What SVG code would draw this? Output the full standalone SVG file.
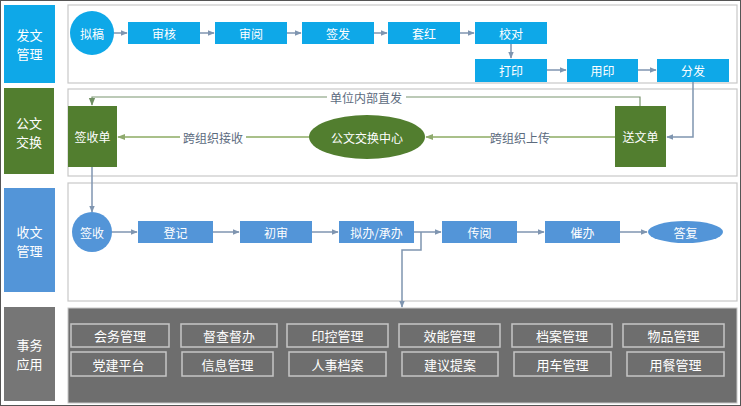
<svg xmlns="http://www.w3.org/2000/svg" width="741" height="406" viewBox="0 0 741 406">
<defs>
<marker id="ab" viewBox="0 0 10 10" refX="9" refY="5" markerWidth="7" markerHeight="7" markerUnits="userSpaceOnUse" orient="auto"><path d="M0,1 L10,5 L0,9 z" fill="#7F95B0"/></marker>
<marker id="ag" viewBox="0 0 10 10" refX="9" refY="5" markerWidth="8" markerHeight="8" markerUnits="userSpaceOnUse" orient="auto"><path d="M0,1 L10,5 L0,9 z" fill="#8FAA6E"/></marker>
<marker id="ad" viewBox="0 0 10 10" refX="9" refY="5" markerWidth="8" markerHeight="8" markerUnits="userSpaceOnUse" orient="auto"><path d="M0,1 L10,5 L0,9 z" fill="#6F8F63"/></marker>
</defs>
<style>
text{font-family:"Noto Sans CJK SC","Liberation Sans",sans-serif;text-anchor:middle;dominant-baseline:central}
.w{fill:#fff;font-size:12px}
.lab{fill:#fff;font-size:13px}
.b1{fill:#0EA8E8}
.g{fill:#527E2F}
.b3{fill:#5395D8}
.gy{fill:#767676}
.panel{fill:#fff;stroke:#C8C8C8;stroke-width:1.2}
.bl{stroke:#7F95B0;stroke-width:1.5;fill:none}
.gl{stroke:#A9C08A;stroke-width:2;fill:none}
.dl{stroke:#7A9570;stroke-width:1.2;fill:none}
.sb{fill:none;stroke:#C6C6C6;stroke-width:1.5}
.lt{fill:#5C6B7E;font-size:12px}
</style>
<rect x="0.5" y="0.5" width="740" height="405" fill="#fff" stroke="#555"/>
<g id="lanes">
<rect class="b1" x="4" y="5" width="51" height="78"/>
<text class="lab" x="29.5" y="34">发文</text><text class="lab" x="29.5" y="53">管理</text>
<rect class="g" x="4" y="88" width="50" height="86"/>
<text class="lab" x="29" y="122">公文</text><text class="lab" x="29" y="141">交换</text>
<rect class="b3" x="4" y="188" width="51" height="104"/>
<text class="lab" x="29.5" y="231">收文</text><text class="lab" x="29.5" y="250">管理</text>
<rect class="gy" x="4" y="307" width="51" height="94"/>
<text class="lab" x="29.5" y="344">事务</text><text class="lab" x="29.5" y="363">应用</text>
</g>
<g id="panels">
<rect class="panel" x="68" y="5" width="669" height="78"/>
<rect class="panel" x="68" y="89" width="669" height="87"/>
<rect class="panel" x="68" y="183" width="669" height="118"/>
<rect x="68" y="308" width="669" height="95" fill="#6E6E6E" stroke="#C8C8C8" stroke-width="1"/>
</g>
<g id="connectors">
<path class="bl" d="M114,33 H127" marker-end="url(#ab)"/>
<path class="bl" d="M200,33 H214" marker-end="url(#ab)"/>
<path class="bl" d="M287,33 H301" marker-end="url(#ab)"/>
<path class="bl" d="M374,33 H387" marker-end="url(#ab)"/>
<path class="bl" d="M460,33 H474" marker-end="url(#ab)"/>
<path class="bl" d="M511,44 V58" marker-end="url(#ab)"/>
<path class="bl" d="M547,70 H566" marker-end="url(#ab)"/>
<path class="bl" d="M638,70 H656" marker-end="url(#ab)"/>
<path class="bl" d="M693,82 V137 H667" marker-end="url(#ab)"/>
<path class="gl" d="M615,137 H549 M491,137 H426" marker-end="url(#ag)"/>
<path class="gl" d="M309,137 H246 M180,137 H118" marker-end="url(#ag)"/>
<path class="dl" d="M640,106 V97 H406 M327,97 H92 V105" marker-end="url(#ad)"/>
<path class="bl" d="M92,167 V212" marker-end="url(#ab)"/>
<path class="bl" d="M111,232 H137" marker-end="url(#ab)"/>
<path class="bl" d="M213,232 H239" marker-end="url(#ab)"/>
<path class="bl" d="M312,232 H338" marker-end="url(#ab)"/>
<path class="bl" d="M414,232 H441" marker-end="url(#ab)"/>
<path class="bl" d="M517,232 H544" marker-end="url(#ab)"/>
<path class="bl" d="M620,232 H647" marker-end="url(#ab)"/>
<path class="bl" d="M421,232 V250 H402 V307" marker-end="url(#ab)"/>
<text class="lt" x="520" y="137">跨组织上传</text>
<text class="lt" x="213" y="137">跨组织接收</text>
<text class="lt" x="366" y="97">单位内部直发</text>
</g>
<g id="n-nigao"><circle class="b1" cx="92" cy="33" r="22"/><text class="w" x="92" y="33">拟稿</text></g>
<g id="n-shenhe"><rect class="b1" x="128" y="22" width="72" height="22"/><text class="w" x="164" y="33">审核</text></g>
<g id="n-shenyue"><rect class="b1" x="215" y="22" width="72" height="22"/><text class="w" x="251" y="33">审阅</text></g>
<g id="n-qianfa"><rect class="b1" x="302" y="22" width="72" height="22"/><text class="w" x="338" y="33">签发</text></g>
<g id="n-taohong"><rect class="b1" x="388" y="22" width="72" height="22"/><text class="w" x="424" y="33">套红</text></g>
<g id="n-jiaodui"><rect class="b1" x="475" y="22" width="72" height="22"/><text class="w" x="511" y="33">校对</text></g>
<g id="n-dayin"><rect class="b1" x="475" y="59" width="72" height="23"/><text class="w" x="511" y="70.5">打印</text></g>
<g id="n-yongyin"><rect class="b1" x="567" y="59" width="71" height="23"/><text class="w" x="602.5" y="70.5">用印</text></g>
<g id="n-fenfa"><rect class="b1" x="657" y="59" width="72" height="23"/><text class="w" x="693" y="70.5">分发</text></g>
<g id="n-qianshoudan"><rect class="g" x="68" y="106" width="49" height="61"/><text class="w" x="92.5" y="136.5">签收单</text></g>
<g id="n-center"><ellipse class="g" cx="367" cy="137" rx="58" ry="22"/><text class="w" x="367" y="137">公文交换中心</text></g>
<g id="n-songwendan"><rect class="g" x="615" y="106" width="51" height="61"/><text class="w" x="640.5" y="136.5">送文单</text></g>
<g id="n-qianshou"><circle class="b3" cx="92" cy="232" r="20"/><text class="w" x="92" y="232">签收</text></g>
<g id="n-dengji"><rect class="b3" x="138" y="221" width="75" height="22"/><text class="w" x="175.5" y="232">登记</text></g>
<g id="n-chushen"><rect class="b3" x="240" y="221" width="72" height="22"/><text class="w" x="276" y="232">初审</text></g>
<g id="n-niban"><rect class="b3" x="339" y="221" width="75" height="22"/><text class="w" x="376.5" y="232">拟办/承办</text></g>
<g id="n-chuanyue"><rect class="b3" x="442" y="221" width="75" height="22"/><text class="w" x="479.5" y="232">传阅</text></g>
<g id="n-cuiban"><rect class="b3" x="545" y="221" width="75" height="22"/><text class="w" x="582.5" y="232">催办</text></g>
<g id="n-dafu"><ellipse class="b3" cx="685.5" cy="232" rx="37.5" ry="11"/><text class="w" x="685.5" y="232">答复</text></g>
<g id="n-huiwu"><rect class="sb" x="71" y="324" width="98" height="23"/><text class="lab" x="120" y="335.5">会务管理</text></g>
<g id="n-ducha"><rect class="sb" x="181" y="324" width="96" height="23"/><text class="lab" x="229" y="335.5">督查督办</text></g>
<g id="n-yinkong"><rect class="sb" x="287" y="324" width="101" height="23"/><text class="lab" x="337.5" y="335.5">印控管理</text></g>
<g id="n-xiaoneng"><rect class="sb" x="399" y="324" width="101" height="23"/><text class="lab" x="449.5" y="335.5">效能管理</text></g>
<g id="n-dangan"><rect class="sb" x="512" y="324" width="100" height="23"/><text class="lab" x="562" y="335.5">档案管理</text></g>
<g id="n-wupin"><rect class="sb" x="623" y="324" width="101" height="23"/><text class="lab" x="673.5" y="335.5">物品管理</text></g>
<g id="n-dangjian"><rect class="sb" x="71" y="352" width="95" height="24"/><text class="lab" x="118.5" y="364">党建平台</text></g>
<g id="n-xinxi"><rect class="sb" x="182" y="352" width="91" height="24"/><text class="lab" x="227.5" y="364">信息管理</text></g>
<g id="n-renshi"><rect class="sb" x="289" y="352" width="97" height="24"/><text class="lab" x="337.5" y="364">人事档案</text></g>
<g id="n-jianyi"><rect class="sb" x="402" y="352" width="96" height="24"/><text class="lab" x="450" y="364">建议提案</text></g>
<g id="n-yongche"><rect class="sb" x="514" y="352" width="97" height="24"/><text class="lab" x="562.5" y="364">用车管理</text></g>
<g id="n-yongcan"><rect class="sb" x="627" y="352" width="97" height="24"/><text class="lab" x="675.5" y="364">用餐管理</text></g>
</svg>
